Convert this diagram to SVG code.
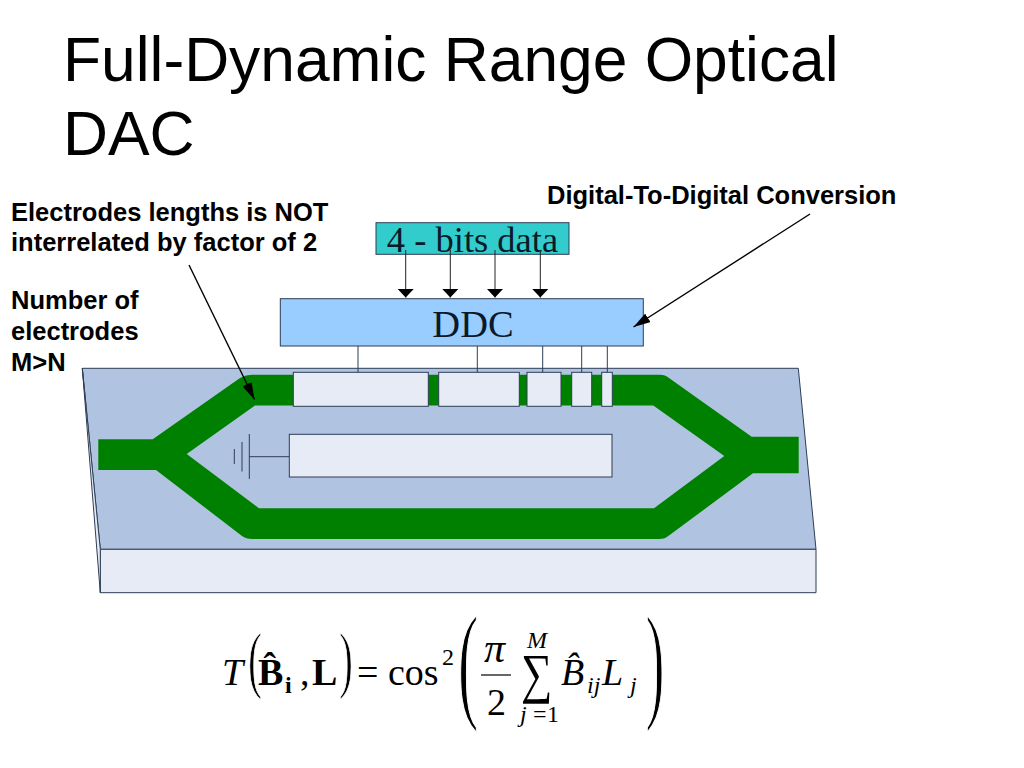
<svg xmlns="http://www.w3.org/2000/svg" width="1024" height="768" viewBox="0 0 1024 768">
<style>
.title{font:62.3px "Liberation Sans",Arial,sans-serif;fill:#000}
.note{font:bold 25.5px "Liberation Sans",Arial,sans-serif;fill:#000}
.lab{font:36.5px "Liberation Serif","Times New Roman",serif;fill:#0a1a2a}
.el{fill:#e6ebf6;stroke:#2e3d55;stroke-width:1}
.ln{stroke:#2e3d55;stroke-width:1;fill:none}
.wire{stroke:#222;stroke-width:1;fill:none}
.ptr{stroke:#000;stroke-width:1.4;fill:none}
.eq{font-family:"Liberation Serif","Times New Roman",serif;fill:#000;font-size:38px}
.it{font-style:italic}
.bd{font-weight:bold}
.sm{font-size:24px}
.thin{stroke:#fff;stroke-width:.55}
</style>
<defs>
<marker id="head" markerUnits="userSpaceOnUse" markerWidth="18" markerHeight="10" refX="17" refY="5" orient="auto"><path d="M0 0L17 5L0 10z" fill="#000"/></marker>
<marker id="down" markerUnits="userSpaceOnUse" markerWidth="10" markerHeight="18" refX="9" refY="8.5" orient="auto"><path d="M0 0L9 8.5L0 17z" fill="#000"/></marker>
</defs>
<rect width="1024" height="768" fill="#fff"/>
<g id="title"><text class="title" x="63" y="81">Full-Dynamic Range Optical</text><text class="title" x="63" y="155">DAC</text></g>
<g id="substrate">
<path d="M82.3 368.3H798.3L816 549.3H100.3z" fill="#b0c4e2" stroke="#2e3d55" stroke-width="1"/>
<path d="M100.3 549.3H816V592.7H100.3z" fill="#e6ebf6" stroke="#2e3d55" stroke-width="1"/>
<path d="M82.3 368.3L100.3 549.3V592.7z" fill="#e6ebf6" stroke="#2e3d55" stroke-width="1"/>
</g>
<g id="waveguide">
<path fill="#008000" d="M98.3 439.3H152.7L240 378Q246 374.7 252 374.7H660Q665 374.7 669 378L751.7 436.7H798.7V473.3H753L669 535.5Q665 539 659 539H252Q246 539 242 536L156 470H98.3zM186.7 454L259 508.3H654L724.3 456L653.3 405.5H255z"/>
</g>
<g id="electrode-1"><rect class="el" x="293.3" y="372.3" width="135" height="34"/></g>
<g id="electrode-2"><rect class="el" x="438.7" y="372.3" width="80.6" height="34"/></g>
<g id="electrode-3"><rect class="el" x="527" y="372.3" width="34" height="34"/></g>
<g id="electrode-4"><rect class="el" x="571.7" y="372.3" width="20" height="34"/></g>
<g id="electrode-5"><rect class="el" x="601.7" y="372.3" width="10.6" height="34"/></g>
<g id="ground-electrode"><rect class="el" x="289.3" y="434.3" width="322.7" height="42.7"/>
<path class="ln" d="M289.3 456.7H249.3M249.3 434V479M242 442V471.5M234.3 449V464"/></g>
<g id="data"><rect x="376" y="222.7" width="193" height="31.6" fill="#33cccc" stroke="#2e3d55" stroke-width="1"/><text class="lab" x="472.5" y="252" text-anchor="middle">4 - bits data</text></g>
<g id="ddc"><rect x="280.3" y="298.7" width="363" height="47.3" fill="#99ccff" stroke="#2e3d55" stroke-width="1"/><text class="lab" style="font-size:38.5px" x="473" y="337" text-anchor="middle">DDC</text></g>
<g id="connectors">
<path class="wire" marker-end="url(#down)" d="M405.7 250V297.5"/>
<path class="wire" marker-end="url(#down)" d="M450.3 250V297.5"/>
<path class="wire" marker-end="url(#down)" d="M495 250V297.5"/>
<path class="wire" marker-end="url(#down)" d="M540.3 250V297.5"/>
<path class="ln" d="M358 346V372.3M477.3 346V372.3M542.7 346V372.3M581.7 346V372.3M607.3 346V372.3"/>
<path class="ptr" marker-end="url(#head)" d="M189 265L254.5 399.5"/>
<path class="ptr" marker-end="url(#head)" d="M810 214L633.5 327"/>
</g>
<g id="notes">
<text class="note" x="11" y="221">Electrodes lengths is NOT</text>
<text class="note" x="11" y="251">interrelated by factor of 2</text>
<text class="note" x="11" y="309">Number of</text>
<text class="note" x="11" y="340">electrodes</text>
<text class="note" x="11" y="371">M&gt;N</text>
<text class="note" x="547" y="204">Digital-To-Digital Conversion</text>
</g>
<g id="formula" class="eq">
<text class="it" x="222" y="685">T</text>
<text class="thin" transform="translate(248 684) scale(1.1 1.94)" font-size="38">(</text>
<text class="bd" x="258" y="685">B&#x302;</text>
<text class="bd sm" x="285" y="693">i</text>
<text x="300" y="685">,</text>
<text class="bd" x="312" y="685">L</text>
<text class="thin" transform="translate(339 684) scale(1.1 1.94)" font-size="38">)</text>
<text x="357" y="685">=</text>
<text x="388" y="685">cos</text>
<text class="sm" x="442" y="665">2</text>
<text class="thin" transform="translate(458 705) scale(1.6 3.4)" font-size="38">(</text>
<text class="it" style="font-size:42px" x="484" y="662">π</text>
<path d="M481 675H511" stroke="#000" stroke-width="1.2"/>
<text x="487" y="715">2</text>
<text class="it sm" x="527" y="648">M</text>
<text transform="translate(521 692) scale(1 1.25)" font-size="44">∑</text>
<text class="it sm" x="520" y="722">j</text>
<text class="sm" x="533 547" y="722">=1</text>
<text class="it" x="561" y="685">B&#x302;</text>
<text class="it sm" x="587" y="693">ij</text>
<text class="it" x="602" y="685">L</text>
<text class="it sm" x="630" y="693">j</text>
<text class="thin" transform="translate(645.5 705) scale(1.5 3.4)" font-size="38">)</text>
</g>
</svg>
